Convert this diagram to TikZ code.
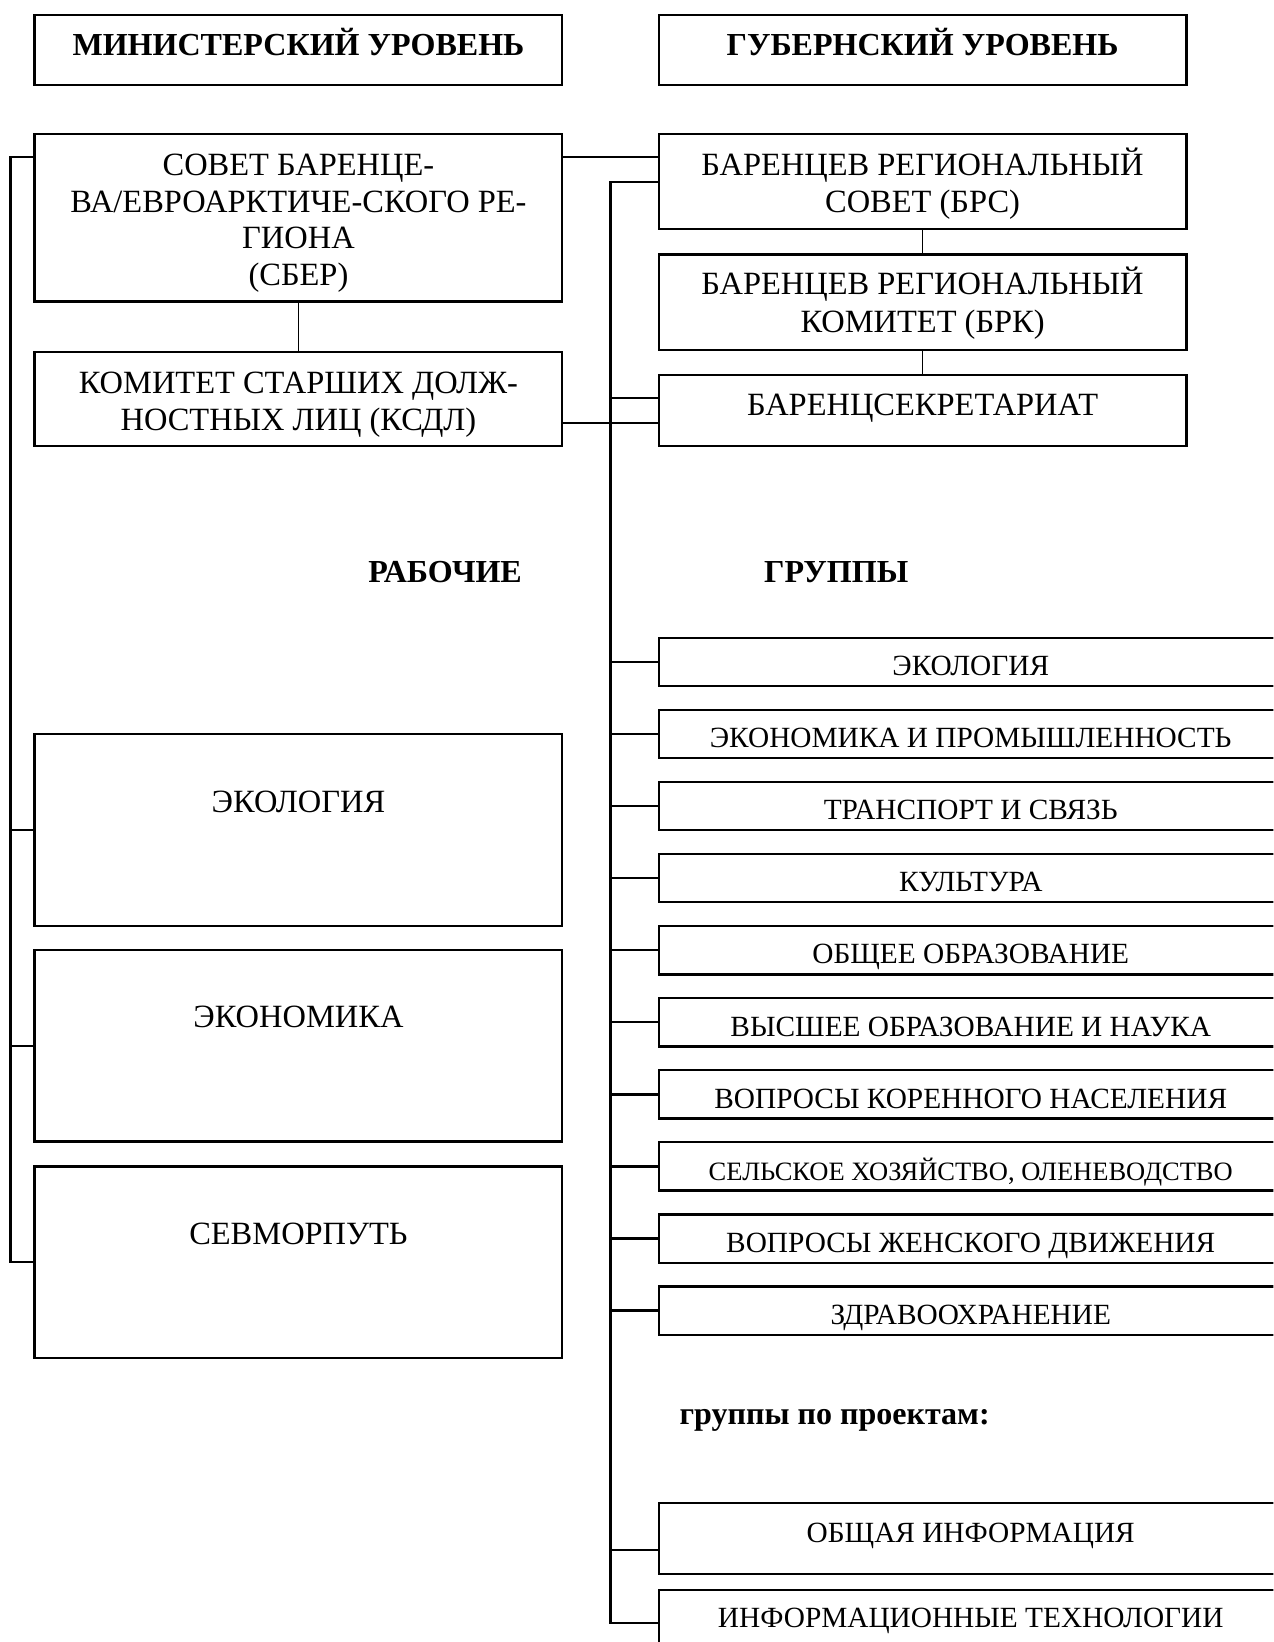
\documentclass[tikz,border=0pt]{standalone}
\usepackage{fontspec}
\setmainfont{Liberation Serif}
\begin{document}
\begin{tikzpicture}[x=1pt,y=-1pt,line width=2.1pt,
  box/.style={draw,line width=2.1pt,inner sep=0pt,outer sep=0pt,anchor=north west,minimum width=504pt},
  lbox/.style={draw,line width=2.1pt,inner sep=0pt,outer sep=0pt,anchor=north west,minimum width=640pt,minimum height=46pt},
  txt/.style={inner sep=0pt,anchor=base,font=\fontsize{31}{35}\selectfont},
  ltxt/.style={inner sep=0pt,anchor=base,font=\fontsize{28}{32}\selectfont},
  btxt/.style={inner sep=0pt,anchor=base,font=\fontsize{30.6}{35}\selectfont\bfseries},
  conn/.style={draw,line width=2.1pt},
  thin/.style={draw,line width=1.5pt}]
\useasboundingbox (0,0) rectangle (1216,1568);
\clip (0,0) rectangle (1216,1568);
% headers
\node[box,minimum height=67pt] (hl) at (33,14) {};
\node[box,minimum height=67pt] (hr) at (629,14) {};
\node[btxt] (hlt) at (285,53) {МИНИСТЕРСКИЙ УРОВЕНЬ};
\node[btxt] (hrt) at (881,53) {ГУБЕРНСКИЙ УРОВЕНЬ};
% ministerial
\node[box,minimum height=160pt] (sber) at (33,128) {};
\node[txt] (s1) at (285,167.5) {СОВЕТ БАРЕНЦЕ-};
\node[txt] (s2) at (285,202.5) {ВА/ЕВРОАРКТИЧЕ-СКОГО РЕ-};
\node[txt] (s3) at (285,237.5) {ГИОНА};
\node[txt] (s4) at (285,272.5) {(СБЕР)};
\node[box,minimum height=90pt] (ksdl) at (33,336) {};
\node[txt] (k1) at (285,375.5) {КОМИТЕТ СТАРШИХ ДОЛЖ-};
\node[txt] (k2) at (285,411.5) {НОСТНЫХ ЛИЦ (КСДЛ)};
% governorate
\node[box,minimum height=91pt] (brs) at (629,128) {};
\node[txt] (b1) at (881,167.5) {БАРЕНЦЕВ РЕГИОНАЛЬНЫЙ};
\node[txt] (b2) at (881,202.5) {СОВЕТ (БРС)};
\node[box,minimum height=91pt] (brk) at (629,243) {};
\node[txt] (c1) at (881,281.5) {БАРЕНЦЕВ РЕГИОНАЛЬНЫЙ};
\node[txt] (c2) at (881,317.5) {КОМИТЕТ (БРК)};
\node[box,minimum height=68pt] (bs) at (629,358) {};
\node[txt] (bst) at (881,396.5) {БАРЕНЦСЕКРЕТАРИАТ};
% working groups label
\node[btxt] (rab) at (425,556.5) {РАБОЧИЕ};
\node[btxt] (grp) at (798.5,556.5) {ГРУППЫ};
% left groups
\node[box,minimum height=183pt] (ekl) at (33,701) {};
\node[txt] (eklt) at (285,775.5) {ЭКОЛОГИЯ};
\node[box,minimum height=183pt] (ekn) at (33,907) {};
\node[txt] (eknt) at (285,981.5) {ЭКОНОМИКА};
\node[box,minimum height=183pt] (sev) at (33,1114) {};
\node[txt] (sevt) at (285,1188.5) {СЕВМОРПУТЬ};
% right list
\foreach \i/\t/\f in {0/ЭКОЛОГИЯ/28,1/ЭКОНОМИКА И ПРОМЫШЛЕННОСТЬ/28,2/ТРАНСПОРТ И СВЯЗЬ/28,3/КУЛЬТУРА/28,4/ОБЩЕЕ ОБРАЗОВАНИЕ/28,5/ВЫСШЕЕ ОБРАЗОВАНИЕ И НАУКА/28,6/ВОПРОСЫ КОРЕННОГО НАСЕЛЕНИЯ/28,7/{СЕЛЬСКОЕ ХОЗЯЙСТВО, ОЛЕНЕВОДСТВО}/25.3,8/ВОПРОСЫ ЖЕНСКОГО ДВИЖЕНИЯ/28,9/ЗДРАВООХРАНЕНИЕ/28}{
  \pgfmathsetmacro{\yt}{609.3+68.8*\i}
  \pgfmathsetmacro{\yb}{\yt+23+13}
  \node[lbox] (l\i) at (629,\yt) {};
  \node[ltxt,font=\fontsize{\f}{32}\selectfont] (lt\i) at (927,\yb) {\t};
  \draw[conn] (583,\yt+23) -- (l\i.west);
}
\node[btxt,anchor=base west] (proj) at (648,1360) {группы по проектам:};
\node[lbox,minimum height=68pt] (oi) at (629,1435) {};
\node[ltxt] (oit) at (927,1472.5) {ОБЩАЯ ИНФОРМАЦИЯ};
\node[lbox,minimum height=100pt] (it) at (629,1518.5) {};
\node[ltxt] (itt) at (927,1554.5) {ИНФОРМАЦИОННЫЕ ТЕХНОЛОГИИ};
% connectors
\coordinate (ltop) at (10,150);
\coordinate (lbot) at (10,1205);
\coordinate (rtop) at (583,174);
\coordinate (rbot) at (583,1550);
\draw[conn] (sber.west |- ltop) -- (ltop) -- (lbot) -- (lbot -| sev.west);
\draw[conn] (ltop |- ekl.west) -- (ekl.west);
\draw[conn] (ltop |- ekn.west) -- (ekn.west);
\draw[conn] (brs.west |- rtop) -- (rtop) -- (rbot) -- (rbot -| it.west);
\draw[conn] (sber.east |- ltop) -- (brs.west |- ltop);
\draw[conn] (rtop |- 0,380) -- (bs.west |- 0,380);
\draw[conn] (ksdl.east |- 0,404) -- (bs.west |- 0,404);
\draw[conn] (rtop |- 0,1480) -- (oi.west |- 0,1480);
\draw[thin] (sber.south) -- (ksdl.north);
\draw[thin] (brs.south) -- (brk.north);
\draw[thin] (brk.south) -- (bs.north);
\end{tikzpicture}
\end{document}
